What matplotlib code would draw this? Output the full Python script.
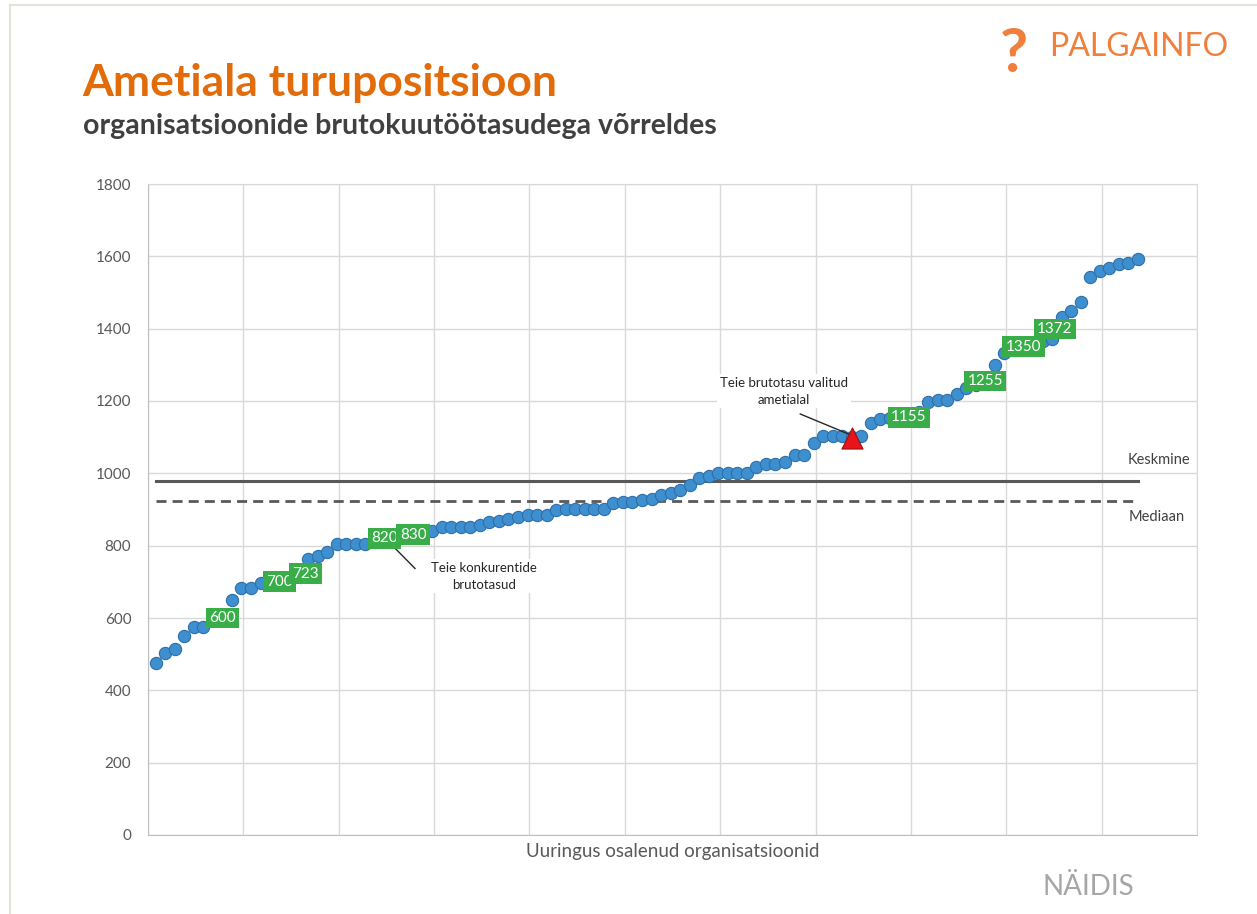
import numpy as np
import matplotlib
matplotlib.use("Agg")
import matplotlib.pyplot as plt
from matplotlib.lines import Line2D

plt.rcParams['font.family'] = ['Lato', 'DejaVu Sans']

# sorted gross salaries of the organisations in the survey
salaries = [475, 502, 513, 551, 576, 576, 598, 600, 650, 684,
            684, 697, 699, 700, 710, 723, 762, 771, 783, 804,
            804, 804, 804, 810, 820, 825, 828, 830, 838, 841,
            852, 852, 852, 852, 856, 865, 868, 875, 878, 884,
            884, 884, 899, 902, 902, 902, 902, 902, 919, 921,
            922, 926, 930, 940, 945, 954, 968, 988, 993, 1002,
            1002, 1002, 1002, 1017, 1027, 1027, 1030, 1052, 1052, 1083,
            1103, 1103, 1103, 1100, 1103, 1138, 1149, 1152, 1153, 1155,
            1170, 1196, 1204, 1204, 1219, 1237, 1245, 1255, 1299, 1333,
            1345, 1350, 1358, 1365, 1372, 1433, 1450, 1474, 1544, 1560,
            1567, 1579, 1582, 1592]
# competitors (green labels), 1-based position in the list
competitor_pos = [8, 14, 16, 25, 28, 80, 88, 92, 95]
own_pos = 74
own_salary = 1097
mean_salary = 980
median_salary = 923

x = np.arange(1, len(salaries) + 1)
y = np.array(salaries)

fig = plt.figure(figsize=(12.57, 9.14), dpi=100)
fig.patch.set_facecolor('white')

# slide border
fig.add_artist(Line2D([10/1257, 1], [1 - 5/914, 1 - 5/914], transform=fig.transFigure, color='#e6e2da', lw=1.5))
fig.add_artist(Line2D([10/1257, 10/1257], [0, 1 - 5/914], transform=fig.transFigure, color='#e6e2da', lw=1.5))

fig.text(82/1257, 1 - 96/914, 'Ametiala turupositsioon', color='#e36c0a', fontsize=32,
         fontweight='bold', ha='left', va='baseline')
fig.text(83/1257, 1 - 134/914, 'organisatsioonide brutokuutöötasudega võrreldes', color='#404040',
         fontsize=20.5, fontweight='bold', ha='left', va='baseline')

# logo
fig.text(1014/1257, 1 - 54/914, '?', color='#f07f3c', fontsize=44, fontweight='bold', ha='center', va='center')
fig.text(1049/1257, 1 - 47/914, 'PALGAINFO', color='#f07f3c', fontsize=23, ha='left', va='center')

fig.text(1088/1257, 1 - 887/914, 'NÄIDIS', color='#a6a6a6', fontsize=20, ha='center', va='center')

ax = fig.add_axes([148/1257, 79/914, 1049/1257, 651/914])
ax.set_xlim(0.2, 110.2)
ax.set_ylim(0, 1800)
ax.set_xticks(np.arange(0.2, 111, 10))
ax.set_yticks(np.arange(0, 1801, 200))
ax.set_xticklabels([])
ax.grid(True, color='#d9d9d9', lw=1)
ax.set_axisbelow(True)
ax.tick_params(axis='y', length=0, labelsize=11, labelcolor='#595959', pad=12)
ax.tick_params(axis='x', length=0, pad=0)
for s in ax.spines.values():
    s.set_color('#d9d9d9')
ax.spines['left'].set_color('#bfbfbf')
ax.spines['bottom'].set_color('#bfbfbf')
ax.set_xlabel('Uuringus osalenud organisatsioonid', fontsize=13.5, color='#595959', labelpad=6)

ax.plot([x[0], x[-1]], [mean_salary, mean_salary], color='#595959', lw=2.2, zorder=2)
ax.plot([x[0], x[-1]], [median_salary, median_salary], color='#595959', lw=2, dashes=(3.6, 2.2), zorder=2)
ax.text(106.2, 1037, 'Keskmine', fontsize=10.5, color='#404040', ha='center', va='center')
ax.text(106.0, 879, 'Mediaan', fontsize=10.5, color='#404040', ha='center', va='center')

ax.scatter(x, y, s=78, color='#3d8fcf', edgecolors='#2f6fa8', linewidths=0.8, zorder=3)
ax.scatter([own_pos], [own_salary], marker='^', s=230, color='#e8141a', edgecolors='#9c1010',
           linewidths=0.8, zorder=5)

offsets = {16: (5, 0), 95: (2, 7)}
for p in competitor_pos:
    dx, dy = offsets.get(p, (0, 0))
    ax.annotate(str(salaries[p - 1]), (p, salaries[p - 1]), xytext=(dx, dy), textcoords='offset points',
                ha='center', va='center', color='white', fontsize=11, zorder=6,
                bbox=dict(boxstyle='square,pad=0.22', fc='#38ad48', ec='none'))

ax.plot([68.6, 73.9], [1164, 1106], color='#262626', lw=1, zorder=4)
ax.text(66.9, 1227, 'Teie brutotasu valitud\nametialal', fontsize=9.5, color='#262626',
        ha='center', va='center', linespacing=1.5, zorder=6,
        bbox=dict(boxstyle='square,pad=0.2', fc='white', ec='none'))
ax.plot([26.1, 28.2], [793, 737], color='#262626', lw=1, zorder=4)
ax.text(35.4, 716, 'Teie konkurentide\nbrutotasud', fontsize=9.5, color='#262626',
        ha='center', va='center', linespacing=1.5, zorder=6,
        bbox=dict(boxstyle='square,pad=0.2', fc='white', ec='none'))

plt.savefig('out.png', dpi=100)
